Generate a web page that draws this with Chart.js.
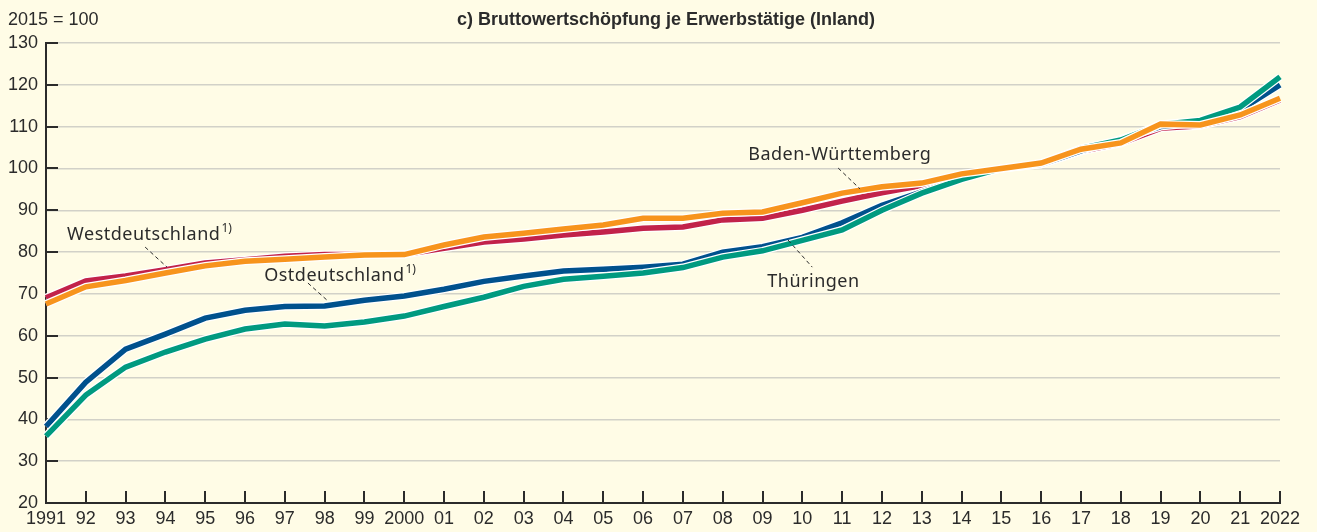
<!DOCTYPE html>
<html lang="de">
<head>
<meta charset="utf-8">
<title>Bruttowertschöpfung je Erwerbstätige</title>
<script src="https://cdn.jsdelivr.net/npm/chart.js@4.4.1/dist/chart.umd.min.js"></script>
<style>
    html, body { margin: 0; padding: 0; background: #fffce6; }
    #wrap { width: 1317px; height: 532px; position: relative; }
</style>
</head>
<body>
<div id="wrap"><canvas id="chart"></canvas></div>
<script>
// 2015 = 100
const years = ['1991', '92', '93', '94', '95', '96', '97', '98', '99', '2000',
    '01', '02', '03', '04', '05', '06', '07', '08', '09', '10',
    '11', '12', '13', '14', '15', '16', '17', '18', '19', '20', '21', '2022'];

const westdeutschland = [69.1, 73.1, 74.3, 75.8, 77.4, 78.2, 79.0, 79.4, 79.4, 79.4,
    80.9, 82.4, 83.1, 84.1, 84.8, 85.7, 86.0, 87.7, 88.1, 90.0,
    92.2, 94.2, 95.9, 98.4, 100, 101.0, 104.1, 106.0, 109.6, 110.2, 112.4, 116.4];
const ostdeutschland = [38.3, 48.9, 56.8, 60.4, 64.2, 66.1, 67.0, 67.1, 68.5, 69.5,
    71.1, 73.0, 74.3, 75.5, 75.9, 76.4, 77.1, 80.0, 81.3, 83.5,
    87.0, 91.2, 94.4, 97.5, 100, 101.0, 104.2, 107.0, 110.0, 111.0, 114.0, 120.0];
const thueringen = [36.0, 45.8, 52.5, 56.1, 59.2, 61.6, 62.8, 62.3, 63.3, 64.7,
    67.0, 69.2, 71.8, 73.5, 74.2, 75.0, 76.3, 78.8, 80.3, 82.8,
    85.3, 90.0, 94.1, 97.4, 100, 101.2, 104.8, 106.8, 110.5, 111.5, 114.7, 121.9];
const badenWuerttemberg = [67.6, 71.7, 73.2, 75.0, 76.7, 77.8, 78.3, 78.8, 79.3, 79.4,
    81.7, 83.6, 84.5, 85.5, 86.5, 88.1, 88.1, 89.3, 89.6, 91.8,
    94.1, 95.6, 96.5, 98.7, 100, 101.3, 104.6, 106.1, 110.6, 110.4, 112.8, 116.8];

const yMin = 20;
const yMax = 130;
const yStep = 10;

const BG = '#fffce6';
const INK = '#2b2b2b';
const GRID = '#d2d1c8';
const FONT = '"Liberation Sans", Arial, sans-serif';
const LABEL_FONT = '"Noto Sans", "Liberation Sans", sans-serif';

// series in drawing order, bottom first
const series = [
    { label: 'Westdeutschland', data: westdeutschland, color: '#c2224a' },
    { label: 'Ostdeutschland', data: ostdeutschland, color: '#00518d' },
    { label: 'Thüringen', data: thueringen, color: '#009a80' },
    { label: 'Baden-Württemberg', data: badenWuerttemberg, color: '#f7941d' },
];

// labels placed in axis units: x = category index, y = value
const annotations = [
    { text: 'Westdeutschland', sup: '1)', x: 0.53, y: 82.9, from: [2.49, 81.2], to: [3.04, 76.4] },
    { text: 'Ostdeutschland', sup: '1)', x: 5.48, y: 73.1, from: [6.58, 72.6], to: [7.06, 68.5] },
    { text: 'Baden-Württemberg', sup: '', x: 17.64, y: 102.0, from: [19.90, 100.1], to: [20.45, 95.1] },
    { text: 'Thüringen', sup: '', x: 18.12, y: 71.6, from: [18.64, 82.9], to: [19.25, 76.4] },
];

const datasets = [];
let order = series.length * 2;
series.forEach((s) => {
    // white casing under each coloured line
    datasets.push({
        label: s.label + ' casing',
        data: s.data,
        borderColor: '#ffffff',
        borderWidth: 8,
        pointRadius: 0,
        tension: 0,
        borderCapStyle: 'butt',
        order: order--,
    });
    datasets.push({
        label: s.label,
        data: s.data,
        borderColor: s.color,
        borderWidth: 5.5,
        pointRadius: 0,
        tension: 0,
        borderCapStyle: 'butt',
        order: order--,
    });
});

const backgroundPlugin = {
    id: 'background',
    beforeDraw(chart) {
        const { ctx, width, height } = chart;
        ctx.save();
        ctx.fillStyle = BG;
        ctx.fillRect(0, 0, width, height);
        ctx.restore();
    },
};

// tick marks pointing into the plot area
const innerTicksPlugin = {
    id: 'innerTicks',
    beforeDatasetsDraw(chart) {
        const { ctx, chartArea, scales } = chart;
        const len = 12;
        ctx.save();
        ctx.strokeStyle = INK;
        ctx.lineWidth = 2;
        ctx.beginPath();
        scales.y.ticks.forEach((t, i) => {
            const y = Math.round(scales.y.getPixelForTick(i));
            ctx.moveTo(chartArea.left, y);
            ctx.lineTo(chartArea.left + len, y);
        });
        scales.x.ticks.forEach((t, i) => {
            const x = Math.round(scales.x.getPixelForTick(i));
            ctx.moveTo(x, chartArea.bottom);
            ctx.lineTo(x, chartArea.bottom - len);
        });
        ctx.stroke();
        ctx.restore();
    },
};

const textPlugin = {
    id: 'texts',
    afterDraw(chart) {
        const { ctx, scales } = chart;
        ctx.save();
        ctx.fillStyle = INK;
        ctx.textBaseline = 'alphabetic';

        ctx.font = '18px ' + FONT;
        ctx.textAlign = 'left';
        ctx.fillText('2015 = 100', 8, 25);

        ctx.font = 'bold 18px ' + FONT;
        ctx.textAlign = 'center';
        ctx.fillText('c) Bruttowertschöpfung je Erwerbstätige (Inland)', 666, 25);

        ctx.textAlign = 'left';
        annotations.forEach((a) => {
            const x = scales.x.getPixelForValue(a.x);
            const y = scales.y.getPixelForValue(a.y);
            ctx.font = '18px ' + LABEL_FONT;
            ctx.letterSpacing = '0.5px';
            ctx.fillText(a.text, x, y);
            if (a.sup) {
                const w = ctx.measureText(a.text).width;
                ctx.font = '12px ' + LABEL_FONT;
                ctx.letterSpacing = '0px';
                ctx.fillText(a.sup, x + w + 1, y - 8);
            }
            ctx.letterSpacing = '0px';
            ctx.beginPath();
            ctx.setLineDash([4, 3]);
            ctx.strokeStyle = INK;
            ctx.lineWidth = 1;
            ctx.moveTo(scales.x.getPixelForValue(a.from[0]), scales.y.getPixelForValue(a.from[1]));
            ctx.lineTo(scales.x.getPixelForValue(a.to[0]), scales.y.getPixelForValue(a.to[1]));
            ctx.stroke();
            ctx.setLineDash([]);
        });
        ctx.restore();
    },
};

new Chart(document.getElementById('chart'), {
    type: 'line',
    data: {
        labels: years,
        datasets: datasets,
    },
    options: {
        responsive: true,
        maintainAspectRatio: false,
        animation: false,
        layout: {
            padding: { left: 0, top: 43, right: 37, bottom: 0 },
        },
        plugins: {
            legend: { display: false },
            tooltip: { enabled: false },
            title: { display: false },
        },
        scales: {
            x: {
                offset: false,
                afterFit: (scale) => { scale.height = 29; },
                grid: { display: false, drawTicks: false },
                border: { display: true, color: INK, width: 2 },
                ticks: {
                    color: INK,
                    font: { family: FONT, size: 18 },
                    padding: 5,
                    maxRotation: 0,
                    autoSkip: false,
                },
            },
            y: {
                min: yMin,
                max: yMax,
                afterFit: (scale) => { scale.width = 46; },
                grid: {
                    drawTicks: false,
                    color: (c) => (c.tick && c.tick.value === yMin ? 'rgba(0,0,0,0)' : GRID),
                    lineWidth: 1.5,
                },
                border: { display: true, color: INK, width: 2 },
                ticks: {
                    stepSize: yStep,
                    color: INK,
                    font: { family: FONT, size: 18 },
                    padding: 8,
                },
            },
        },
    },
    plugins: [backgroundPlugin, innerTicksPlugin, textPlugin],
});
</script>
</body>
</html>
